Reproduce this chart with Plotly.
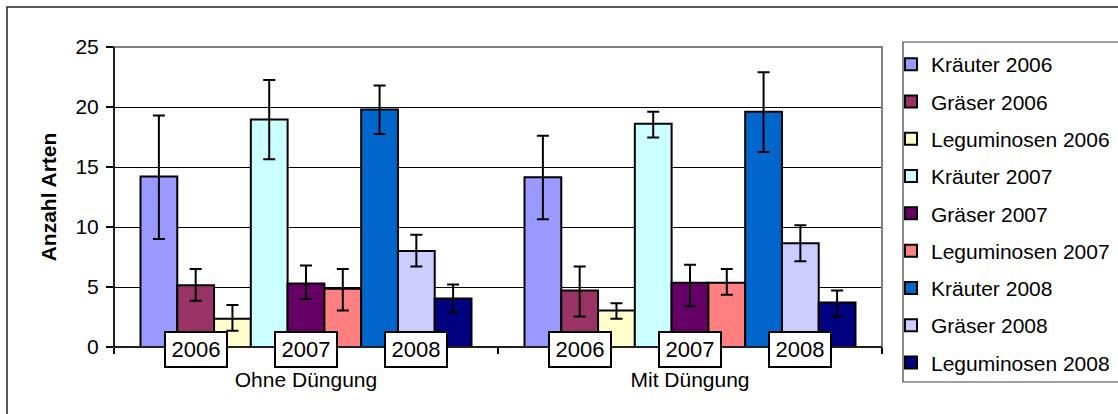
import plotly.graph_objects as go

categories = ["Ohne Düngung", "Mit Düngung"]
series = ["Kräuter 2006", "Gräser 2006", "Leguminosen 2006",
          "Kräuter 2007", "Gräser 2007", "Leguminosen 2007",
          "Kräuter 2008", "Gräser 2008", "Leguminosen 2008"]
colors = ["#9999FF", "#993366", "#FFFFCC", "#CCFFFF", "#660066",
          "#FF8080", "#0066CC", "#CCCCFF", "#000080"]

values_ohne = [14.2, 5.15, 2.35, 18.95, 5.3, 4.85, 19.8, 8.0, 4.05]
err_up_ohne = [5.1, 1.35, 1.15, 3.3, 1.5, 1.65, 2.0, 1.35, 1.15]
err_dn_ohne = [5.2, 1.3, 1.0, 3.3, 1.3, 1.8, 2.05, 1.3, 1.15]

values_mit = [14.15, 4.7, 3.05, 18.6, 5.35, 5.35, 19.6, 8.65, 3.7]
err_up_mit = [3.45, 2.0, 0.6, 1.0, 1.5, 1.15, 3.3, 1.5, 1.0]
err_dn_mit = [3.5, 2.15, 0.7, 1.15, 1.95, 1.0, 3.35, 1.5, 1.15]

year_labels = ["2006", "2007", "2008"]
y_ticks = [0, 5, 10, 15, 20, 25]

FONT = "Liberation Sans, Arial, sans-serif"
BARGAP = 0.138

# plot-area geometry in pixels
PL, PR, PT, PB = 114, 882, 47, 347
PW, PH = PR - PL, PB - PT

def px_x(p):
    return (p - PL) / PW

def px_y(p):
    return (PB - p) / PH

fig = go.Figure()
for i, name in enumerate(series):
    fig.add_trace(go.Bar(
        name=name,
        x=categories,
        y=[values_ohne[i], values_mit[i]],
        marker=dict(color=colors[i], line=dict(color="#000000", width=2)),
        error_y=dict(type="data", symmetric=False,
                     array=[err_up_ohne[i], err_up_mit[i]],
                     arrayminus=[err_dn_ohne[i], err_dn_mit[i]],
                     color="#000000", thickness=2, width=6),
        legendgroup=name,
    ))

# year boxes centred on the middle bar of each year triplet
bw = (1 - BARGAP) / len(series)
for ci in range(len(categories)):
    for yi, yl in enumerate(year_labels):
        k = yi * 3 + 1
        xpos = ci + (k - (len(series) - 1) / 2) * bw
        fig.add_annotation(x=xpos, y=px_y(349), xref="x", yref="paper", text=yl,
                           showarrow=False, bgcolor="#FFFFFF",
                           bordercolor="#000000", borderwidth=2,
                           width=60, height=33, borderpad=0,
                           font=dict(family=FONT, size=22, color="#000000"),
                           yanchor="middle", xanchor="center")

# plot area border (gray) and axes lines
fig.add_shape(type="rect", xref="paper", yref="paper", x0=0, x1=1, y0=0, y1=1,
              line=dict(color="#808080", width=2), layer="above")
fig.add_shape(type="line", xref="paper", yref="paper", x0=0, x1=0, y0=0, y1=1,
              line=dict(color="#000000", width=1.5), layer="above")
fig.add_shape(type="line", xref="paper", yref="paper", x0=0, x1=1, y0=0, y1=0,
              line=dict(color="#000000", width=1.5), layer="above")
# outer chart border
fig.add_shape(type="rect", xref="paper", yref="paper",
              x0=px_x(7), x1=px_x(1130), y0=px_y(430), y1=px_y(7),
              line=dict(color="#222222", width=1.5))
# legend frame
fig.add_shape(type="rect", xref="paper", yref="paper",
              x0=px_x(903), x1=px_x(1130), y0=px_y(382), y1=px_y(42),
              line=dict(color="#404040", width=1.2), fillcolor="#FFFFFF", layer="below")

fig.update_layout(
    width=1118, height=414,
    margin=dict(l=PL, r=1118 - PR, t=PT, b=414 - PB, autoexpand=False),
    paper_bgcolor="#FFFFFF", plot_bgcolor="#FFFFFF",
    barmode="group", bargap=BARGAP, bargroupgap=0,
    font=dict(family=FONT, size=21, color="#000000"),
    showlegend=True,
    legend=dict(x=px_x(891), y=px_y(44), xanchor="left", yanchor="top",
                borderwidth=0, bgcolor="rgba(0,0,0,0)",
                font=dict(family=FONT, size=21, color="#000000"),
                tracegroupgap=7, traceorder="grouped", maxheight=400),
    xaxis=dict(type="category", showgrid=False, showline=False,
               ticks="outside", tickson="boundaries", ticklen=6, tickcolor="#000000",
               tickwidth=1.5, ticklabelstandoff=18,
               tickfont=dict(family=FONT, size=21, color="#000000")),
    yaxis=dict(range=[0, 25], tickvals=y_ticks, showgrid=True, gridcolor="#000000",
               gridwidth=1, zeroline=False, showline=False,
               ticks="outside", ticklen=7, tickcolor="#000000", tickwidth=1.5,
               ticklabelstandoff=3,
               tickfont=dict(family=FONT, size=21, color="#000000"),
               title=dict(text="<b>Anzahl Arten</b>", standoff=13,
                          font=dict(family=FONT, size=21, color="#000000"))),
)

fig.write_html("out.html", config={"displayModeBar": False},
               post_script="document.body.style.margin='0';document.body.style.overflow='hidden';")
